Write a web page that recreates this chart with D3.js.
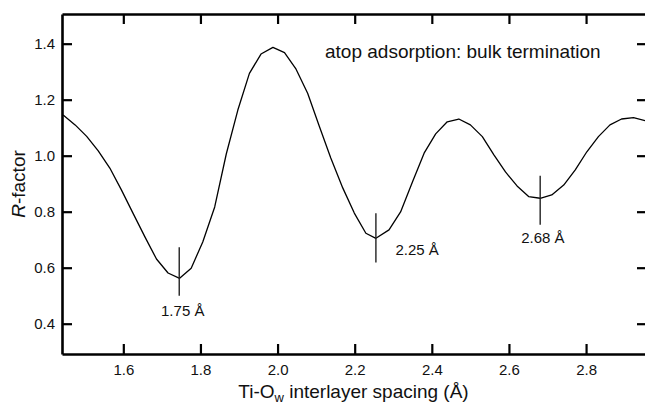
<!DOCTYPE html>
<html>
<head>
<meta charset="utf-8">
<script src="https://cdn.jsdelivr.net/npm/d3@7"></script>
<style>
  html, body { margin: 0; padding: 0; background: #fff; }
  svg { display: block; }
  text { font-family: "Liberation Sans", Arial, Helvetica, sans-serif; fill: #111; }
</style>
</head>
<body>
<svg id="chart" width="645" height="405"></svg>
<script>
// ---- data ----
const spacing = [1.444, 1.475, 1.505, 1.535, 1.565, 1.595, 1.625, 1.656, 1.686, 1.716,
  1.746, 1.776, 1.806, 1.837, 1.867, 1.897, 1.927, 1.957, 1.988, 2.018,
  2.048, 2.078, 2.108, 2.138, 2.169, 2.199, 2.229, 2.255, 2.289, 2.319,
  2.350, 2.380, 2.410, 2.440, 2.470, 2.500, 2.531, 2.561, 2.591, 2.621,
  2.651, 2.681, 2.711, 2.742, 2.772, 2.802, 2.832, 2.862, 2.892, 2.923, 2.953];
const rfactor = [1.145, 1.110, 1.069, 1.017, 0.956, 0.878, 0.795, 0.710, 0.631, 0.581,
  0.562, 0.598, 0.692, 0.817, 1.006, 1.163, 1.294, 1.363, 1.387, 1.368,
  1.309, 1.223, 1.106, 0.992, 0.885, 0.795, 0.723, 0.705, 0.735, 0.799,
  0.907, 1.009, 1.078, 1.121, 1.131, 1.110, 1.068, 1.003, 0.942, 0.892,
  0.854, 0.848, 0.860, 0.895, 0.949, 1.014, 1.068, 1.110, 1.131, 1.136, 1.125];

const minimaX      = [1.745, 2.255, 2.681];
const minimaTop    = [0.673, 0.794, 0.928];
const minimaBottom = [0.500, 0.619, 0.753];
const minimaLabels = ["1.75 Å", "2.25 Å", "2.68 Å"];
const minimaLabelY = [0.429, 0.645, 0.689];

const xTicks = [1.6, 1.8, 2.0, 2.2, 2.4, 2.6, 2.8];
const yTicks = [0.4, 0.6, 0.8, 1.0, 1.2, 1.4];
const xDomain = [1.441, 2.958];
const yDomain = [0.2918, 1.506];
const annotation = "atop adsorption: bulk termination";

// ---- layout ----
const mLeft = 62, mRight = 647, mTop = 14, mBottom = 354;
const svg = d3.select("#chart");

const x = d3.scaleLinear().domain(xDomain).range([mLeft, mRight]);
const y = d3.scaleLinear().domain(yDomain).range([mBottom, mTop]);
const fmt = d3.format(".1f");

function styleAxis(g) {
  g.select(".domain").attr("stroke", "#000").attr("stroke-width", 2.6);
  g.selectAll(".tick line").attr("stroke", "#000").attr("stroke-width", 2.2);
  g.selectAll(".tick text").attr("font-size", 15).attr("fill", "#111")
    .attr("font-family", '"Liberation Sans", Arial, sans-serif');
}

svg.append("g").attr("transform", `translate(0,${mBottom})`)
  .call(d3.axisBottom(x).tickValues(xTicks).tickFormat(fmt).tickSize(-10).tickSizeOuter(0).tickPadding(10))
  .call(styleAxis);
svg.append("g").attr("transform", `translate(0,${mTop})`)
  .call(d3.axisTop(x).tickValues(xTicks).tickFormat("").tickSize(-10).tickSizeOuter(0))
  .call(styleAxis);
svg.append("g").attr("transform", `translate(${mLeft},0)`)
  .call(d3.axisLeft(y).tickValues(yTicks).tickFormat(fmt).tickSize(-10).tickSizeOuter(0).tickPadding(7))
  .call(styleAxis);
svg.append("g").attr("transform", `translate(${mRight},0)`)
  .call(d3.axisRight(y).tickValues(yTicks).tickFormat("").tickSize(-10).tickSizeOuter(0))
  .call(styleAxis);

// curve
const pts = spacing.map((s, i) => [s, rfactor[i]]);
svg.append("path")
  .datum(pts)
  .attr("fill", "none")
  .attr("stroke", "#000")
  .attr("stroke-width", 1.3)
  .attr("stroke-linejoin", "round")
  .attr("d", d3.line().x(d => x(d[0])).y(d => y(d[1])));

// minima markers
svg.selectAll("line.marker")
  .data(minimaX)
  .join("line")
  .attr("class", "marker")
  .attr("x1", d => x(d)).attr("x2", d => x(d))
  .attr("y1", (d, i) => y(minimaTop[i]))
  .attr("y2", (d, i) => y(minimaBottom[i]))
  .attr("stroke", "#222")
  .attr("stroke-width", 1.4);

// marker labels
const labelDx = [3.5, 41.3, 2.7];
svg.selectAll("text.mlabel")
  .data(minimaLabels)
  .join("text")
  .attr("class", "mlabel")
  .attr("x", (d, i) => x(minimaX[i]) + labelDx[i])
  .attr("y", (d, i) => y(minimaLabelY[i]))
  .attr("text-anchor", "middle")
  .attr("font-size", 15)
  .text(d => d);

// annotation
svg.append("text")
  .attr("x", 325).attr("y", 58)
  .attr("font-size", 19)
  .text(annotation);

// x title
const xt = svg.append("text")
  .attr("x", (mLeft + 645) / 2).attr("y", 398)
  .attr("text-anchor", "middle")
  .attr("font-size", 19);
xt.append("tspan").text("Ti-O");
xt.append("tspan").attr("font-size", 13).attr("dy", 4).text("w");
xt.append("tspan").attr("dy", -4).text(" interlayer spacing (Å)");

// y title
const yt = svg.append("text")
  .attr("transform", `translate(25,${(mTop + mBottom) / 2}) rotate(-90)`)
  .attr("text-anchor", "middle")
  .attr("font-size", 19);
yt.append("tspan").attr("font-style", "italic").text("R");
yt.append("tspan").text("-factor");
</script>
</body>
</html>
